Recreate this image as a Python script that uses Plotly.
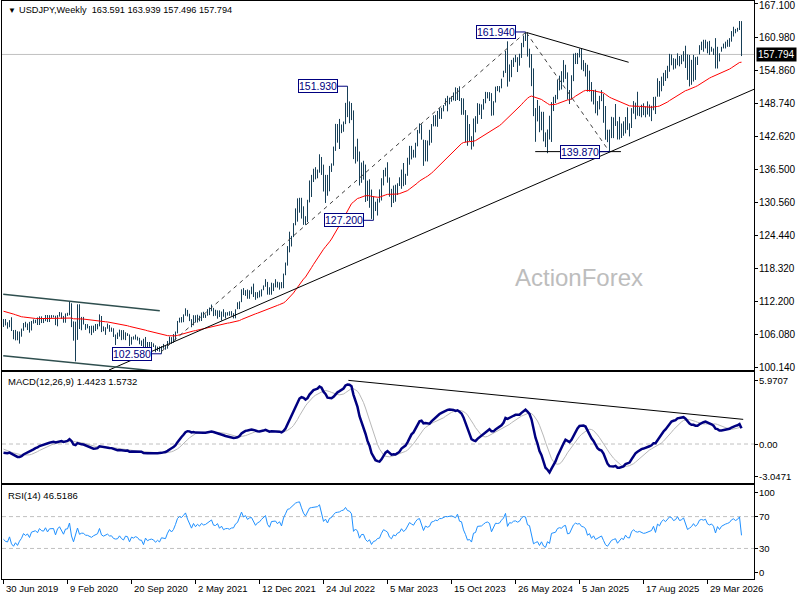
import pandas as pd
import plotly.graph_objects as go

# USDJPY weekly, first drawn bar is the week of 30 Jun 2019
first_week = "2019-06-30"

# closes from 2018 to the end of June 2019, only used to warm up the indicators
pre_closes = [113.0, 111.0, 110.8, 108.6, 110.2, 108.8, 106.3, 106.9, 105.7, 106.8, 106.0, 104.7, 106.3,
              106.9, 107.4, 107.6, 109.0, 109.1, 109.4, 110.8, 109.4, 109.5, 109.5, 110.7, 110.0, 110.8,
              110.5, 112.4, 111.4, 111.0, 111.3, 110.9, 110.5, 111.2, 111.0, 110.9, 112.0, 112.6, 113.7,
              113.7, 112.2, 112.5, 111.9, 113.2, 113.8, 112.8, 112.9, 113.6, 112.7, 113.4, 111.2, 110.3,
              108.5, 108.5, 109.8, 109.5, 109.5, 109.7, 110.5, 110.7, 111.9, 111.2, 111.5, 109.9, 110.9,
              111.7, 112.0, 111.9, 111.6, 111.1, 109.9, 110.1, 109.3, 108.3, 108.2, 108.6, 107.3, 107.9]

highs = [
    # 2019 (from 30 Jun)
    108.99, 108.99, 108.39, 108.78, 109.32, 106.96, 106.98, 106.73, 106.68, 107.23, 108.26, 108.48, 108.18,
    108.47, 108.63, 108.94, 108.87, 109.28, 109.49, 109.48, 109.11, 109.73, 109.73, 109.70, 109.72, 109.68, 109.60,
    # 2020
    109.71, 110.29, 110.20, 109.56, 110.02, 110.14, 112.23, 111.90, 108.56, 108.50, 111.71, 111.71, 109.38,
    109.38, 108.08, 108.05, 107.71, 107.76, 107.77, 108.08, 108.09, 109.85, 109.55, 107.64, 107.48, 108.16,
    107.88, 107.42, 107.29, 106.14, 106.49, 107.04, 106.95, 106.95, 106.55, 106.38, 106.15, 105.70, 105.80,
    106.11, 105.74, 105.53, 105.04, 105.35, 105.68, 104.75, 104.76, 104.75, 104.50, 104.14, 103.90, 103.94,
    # 2021
    103.98, 104.40, 104.09, 104.94, 105.76, 105.65, 106.22, 106.69, 108.64, 109.23, 109.36, 109.85, 110.97,
    110.67, 109.96, 108.97, 109.70, 109.69, 109.79, 109.60, 110.20, 110.33, 109.84, 110.82, 111.11, 111.66,
    111.04, 110.70, 110.59, 110.59, 110.37, 110.80, 110.24, 110.25, 110.42, 110.44, 110.08, 110.79, 112.08,
    112.25, 114.47, 114.70, 114.32, 114.44, 114.30, 114.97, 115.52, 113.95, 113.95, 114.25, 114.47, 115.19,
    # 2022
    116.35, 115.84, 114.85, 115.69, 115.59, 116.34, 115.87, 115.76, 115.80, 117.37, 119.41, 122.44, 125.10,
    124.33, 126.68, 129.40, 131.25, 131.35, 131.35, 129.78, 127.96, 130.98, 134.55, 135.58, 136.71, 137.00,
    136.56, 139.38, 138.88, 137.47, 135.58, 135.58, 137.23, 137.70, 140.80, 144.99, 144.96, 145.90, 144.88,
    145.42, 148.86, 151.94, 149.13, 148.84, 147.47, 140.80, 142.25, 139.89, 137.86, 138.18, 137.48, 134.51,
    # 2023
    134.77, 132.87, 131.58, 130.62, 131.20, 132.90, 134.96, 136.49, 136.92, 137.91, 135.10, 133.00, 133.61,
    133.76, 134.03, 135.13, 136.56, 137.77, 135.77, 138.74, 140.93, 140.93, 140.21, 141.50, 143.87, 145.07,
    144.90, 142.07, 142.00, 141.92, 143.89, 144.96, 146.57, 146.64, 147.37, 147.87, 147.95, 148.46, 149.71,
    150.16, 149.83, 150.08, 150.78, 151.72, 151.59, 151.91, 149.75, 149.68, 147.53, 146.59, 144.96, 142.71,
    # 2024
    145.98, 146.41, 148.81, 148.70, 148.58, 149.58, 150.89, 150.84, 150.84, 150.66, 149.17, 151.86, 151.97,
    151.95, 153.32, 154.79, 158.44, 160.21, 155.95, 156.78, 157.19, 157.71, 157.28, 157.92, 159.92, 161.28,
    161.95, 161.80, 158.86, 157.86, 155.22, 147.90, 149.39, 148.32, 147.22, 147.21, 143.42, 143.95, 146.49,
    149.00, 149.98, 150.33, 153.19, 153.88, 154.71, 156.75, 155.89, 154.48, 151.23, 153.95, 157.93, 158.08, 158.07,
    # 2025
    158.87, 158.88, 156.75, 156.24, 155.89, 154.80, 152.70, 151.23, 151.30, 149.19, 150.16, 151.21, 150.49,
    148.28, 143.91, 143.93, 146.29, 146.19, 148.65, 145.48, 146.28, 145.05, 145.46, 146.25, 148.03, 145.09,
    147.89, 149.19, 148.90, 150.91, 148.07, 148.52, 148.78, 148.18, 149.14, 148.55, 148.32, 149.96, 150.00,
    153.40, 152.90, 153.70, 154.40, 154.90, 155.70, 157.90, 157.80, 157.10, 157.00, 158.00, 157.50, 157.70,
    # 2026
    158.40, 159.40, 157.80, 157.70, 156.80, 157.70, 157.30, 157.40, 159.50, 160.15, 160.50, 160.50, 160.15,
    160.30, 159.20, 158.90, 160.80, 159.20, 158.00, 159.20, 159.80, 160.15, 160.50, 160.80, 162.10, 162.90,
    162.50, 162.70, 163.96, 163.939,
]

lows = [
    # 2019
    107.52, 107.81, 107.21, 107.48, 106.78, 105.26, 105.05, 105.07, 104.46, 105.73, 106.82, 107.46, 106.96,
    106.48, 106.88, 108.15, 108.24, 107.89, 107.89, 108.25, 108.25, 108.60, 108.43, 108.44, 109.20, 109.30, 107.86,
    # 2020
    107.65, 109.43, 109.02, 108.31, 108.31, 109.57, 109.69, 107.50, 105.00, 101.18, 105.15, 107.15, 106.92,
    107.98, 106.99, 107.26, 106.36, 106.03, 106.47, 106.78, 107.09, 107.64, 106.58, 106.73, 106.07, 107.20,
    106.64, 106.64, 105.68, 104.19, 105.30, 105.75, 105.10, 105.20, 105.10, 105.87, 104.00, 104.27, 105.20,
    105.20, 105.03, 104.34, 104.02, 103.18, 103.15, 103.65, 103.87, 103.66, 103.83, 102.87, 103.10, 102.95,
    # 2021
    102.59, 103.52, 103.33, 103.52, 104.52, 104.41, 104.61, 105.06, 106.35, 108.34, 108.34, 108.41, 109.59,
    109.47, 108.61, 107.48, 107.82, 108.34, 108.34, 108.56, 108.63, 109.20, 109.19, 109.60, 109.71, 110.42,
    109.53, 109.59, 109.06, 109.36, 108.72, 109.41, 109.11, 109.62, 109.59, 109.59, 109.11, 109.12, 110.81,
    110.82, 112.10, 113.41, 113.26, 112.73, 112.72, 113.57, 113.05, 112.53, 112.82, 112.98, 113.15, 114.30,
    # 2022
    114.94, 113.49, 113.47, 113.48, 114.15, 114.83, 114.78, 114.41, 114.65, 114.69, 117.07, 118.85, 121.29,
    122.37, 124.10, 126.28, 126.95, 128.61, 127.52, 126.36, 126.36, 126.86, 130.50, 131.50, 134.26, 134.75,
    134.95, 135.98, 135.57, 132.51, 130.40, 131.73, 132.55, 136.12, 137.28, 140.00, 141.52, 140.35, 143.28,
    143.53, 144.94, 146.23, 145.11, 145.68, 138.48, 137.67, 138.05, 133.62, 134.12, 134.69, 130.58, 130.78,
    # 2023
    129.51, 127.46, 127.21, 128.91, 128.08, 130.48, 130.85, 133.63, 135.28, 134.14, 131.55, 129.64, 130.40,
    130.63, 131.86, 133.53, 133.01, 133.50, 133.74, 135.41, 137.45, 138.43, 138.76, 138.77, 140.85, 143.22,
    142.07, 137.24, 138.07, 138.05, 141.02, 141.50, 144.53, 144.53, 144.44, 145.91, 145.90, 147.30, 148.34,
    147.30, 148.60, 149.07, 149.32, 149.20, 149.39, 149.20, 146.66, 146.66, 141.60, 140.95, 141.76, 140.25,
    # 2024
    140.81, 143.42, 145.00, 146.65, 145.89, 147.61, 148.79, 149.68, 149.21, 146.48, 146.55, 148.93, 151.03,
    150.80, 151.55, 153.59, 154.38, 151.86, 152.78, 153.60, 155.48, 156.36, 154.55, 155.72, 157.15, 159.13,
    160.27, 157.40, 155.37, 151.94, 146.41, 141.68, 145.44, 143.45, 143.81, 141.75, 140.71, 139.58, 142.10,
    141.65, 147.35, 148.83, 149.52, 151.16, 151.32, 152.65, 153.29, 149.47, 148.65, 149.47, 152.87, 156.02, 156.02,
    # 2025
    157.24, 154.97, 154.70, 153.72, 150.94, 150.93, 149.10, 148.57, 146.94, 146.54, 147.65, 149.18, 145.19,
    142.06, 141.62, 139.89, 142.36, 142.36, 144.60, 142.11, 142.10, 142.38, 142.79, 143.23, 143.88, 142.68,
    144.22, 146.87, 145.85, 146.50, 146.41, 146.20, 146.59, 146.20, 146.70, 146.32, 145.49, 147.50, 146.80,
    150.00, 150.00, 151.00, 152.00, 152.90, 153.40, 154.60, 155.80, 155.00, 155.20, 155.80, 155.60, 156.00,
    # 2026
    156.50, 155.30, 153.10, 151.90, 152.20, 152.80, 153.10, 155.85, 157.80, 158.60, 158.30, 158.90, 158.00,
    157.70, 158.30, 157.70, 155.20, 155.20, 156.50, 158.30, 158.90, 158.90, 159.20, 159.20, 160.15, 161.10,
    161.70, 162.00, 162.30, 157.496,
]

closes = [
    # 2019
    108.47, 107.91, 107.72, 108.67, 106.59, 105.68, 106.38, 105.39, 106.28, 106.92, 108.08, 107.56, 107.92,
    106.93, 108.29, 108.43, 108.67, 108.19, 109.26, 108.79, 108.67, 109.51, 108.60, 109.38, 109.43, 109.45, 108.10,
    # 2020
    109.50, 110.13, 109.30, 108.38, 109.74, 109.78, 111.62, 107.87, 105.36, 107.95, 110.83, 107.94, 108.45,
    108.45, 107.53, 107.50, 106.90, 106.63, 107.14, 107.61, 107.78, 109.58, 107.36, 106.88, 107.22, 107.51,
    106.89, 106.94, 106.08, 105.87, 105.93, 106.60, 105.81, 105.37, 106.22, 106.08, 104.55, 105.58, 105.32,
    105.62, 105.40, 104.71, 104.66, 103.35, 104.62, 103.86, 104.08, 104.17, 103.97, 103.34, 103.67, 103.25,
    # 2021
    103.95, 103.87, 103.77, 104.68, 105.38, 104.94, 105.44, 106.57, 108.34, 109.03, 108.88, 109.66, 110.69,
    109.67, 108.78, 107.88, 109.31, 108.59, 109.37, 108.96, 109.84, 109.51, 109.67, 110.21, 110.76, 111.05,
    110.13, 110.07, 110.55, 109.72, 110.24, 109.57, 109.80, 109.84, 109.71, 109.95, 109.98, 110.74, 111.06,
    112.22, 114.21, 113.49, 113.98, 113.40, 113.89, 114.01, 113.38, 112.80, 113.44, 113.68, 114.36, 115.08,
    # 2022
    115.56, 114.20, 113.68, 115.26, 115.24, 115.43, 114.99, 115.54, 114.83, 117.29, 119.20, 122.04, 122.50,
    124.33, 126.43, 128.55, 129.80, 130.56, 129.21, 127.87, 127.11, 130.87, 134.40, 135.02, 135.22, 135.24,
    136.10, 138.55, 136.12, 133.27, 134.95, 133.42, 136.93, 137.63, 140.22, 142.55, 142.91, 143.35, 144.74,
    145.28, 148.69, 147.65, 147.47, 146.61, 138.79, 140.37, 139.12, 134.32, 136.60, 136.67, 132.89, 131.12,
    # 2023
    132.09, 127.87, 129.58, 129.88, 131.19, 131.38, 134.17, 136.46, 135.85, 135.05, 131.86, 130.72, 132.87,
    132.18, 133.74, 134.16, 136.28, 134.84, 135.73, 137.97, 140.60, 139.95, 139.40, 141.84, 143.72, 144.32,
    142.09, 138.80, 141.81, 141.17, 141.81, 144.95, 145.39, 146.44, 146.22, 147.84, 147.85, 148.37, 149.37,
    149.30, 149.56, 149.86, 149.66, 149.39, 151.51, 149.62, 149.44, 146.80, 144.95, 142.16, 142.40, 141.02,
    # 2024
    144.61, 144.91, 148.14, 148.14, 148.38, 149.29, 150.20, 150.51, 150.09, 147.06, 149.07, 151.44, 151.35,
    151.61, 153.27, 154.62, 158.32, 153.05, 155.77, 155.63, 156.98, 157.25, 156.74, 157.38, 159.79, 160.88,
    160.75, 157.83, 157.48, 153.76, 146.54, 147.17, 147.61, 144.36, 146.17, 142.30, 140.85, 143.84, 142.18,
    148.70, 149.13, 149.52, 152.31, 152.99, 152.62, 154.31, 154.77, 149.70, 149.97, 153.66, 156.32, 157.84, 157.33,
    # 2025
    157.74, 156.30, 156.00, 155.18, 151.40, 152.30, 149.25, 150.62, 148.03, 148.64, 149.30, 149.84, 146.93,
    143.51, 142.17, 143.70, 144.91, 145.35, 145.69, 142.58, 143.99, 144.85, 144.09, 146.10, 144.65, 144.49,
    147.41, 148.59, 147.68, 147.41, 147.74, 147.18, 146.91, 147.05, 147.38, 147.68, 147.94, 149.50, 147.50,
    151.20, 150.60, 152.90, 154.00, 153.40, 154.60, 156.40, 156.20, 155.30, 155.80, 157.60, 156.50, 156.80,
    # 2026
    158.00, 155.80, 154.20, 154.80, 155.50, 156.90, 156.00, 157.00, 159.20, 159.60, 159.40, 159.90, 158.60,
    158.30, 158.70, 158.10, 156.00, 158.50, 157.50, 158.90, 159.50, 159.90, 160.20, 160.60, 161.80, 162.30,
    161.90, 162.40, 163.59, 157.794,
]

# axis labels as shown by the terminal
price_ticks = [167.100, 160.980, 154.860, 148.740, 142.620, 136.500, 130.560,
               124.440, 118.320, 112.200, 106.080, 100.140]
macd_ticks = [5.9707, 0.0, -3.0471]
macd_tick_text = ["5.9707", "0.00", "-3.0471"]
rsi_ticks = [100, 70, 30, 0]
date_labels = ["30 Jun 2019", "9 Feb 2020", "20 Sep 2020", "2 May 2021", "12 Dec 2021", "24 Jul 2022",
               "5 Mar 2023", "15 Oct 2023", "26 May 2024", "5 Jan 2025", "17 Aug 2025", "29 Mar 2026"]

# marked highs / lows (bar date, price)
mark_dates = ["2022-10-16", "2024-06-30", "2023-01-15", "2025-04-20", "2021-01-03"]
mark_prices = [151.93, 161.94, 127.20, 139.87, 102.58]

# hand drawn lines: (start date, start price, end date, end price)
rising_trend = ["2020-07-03", 99.58, "2026-09-09", 151.40]
falling_top = ["2024-07-03", 161.85, "2025-06-26", 156.35]
support_139 = ["2024-08-03", 139.87, "2025-05-30", 139.87]
dash_up = ["2021-01-03", 103.0, "2024-07-01", 161.9]
dash_down = ["2024-07-03", 161.8, "2025-04-18", 140.0]
channel_top = ["2019-06-29", 113.55, "2020-12-28", 110.53]
channel_bottom = ["2019-06-29", 102.23, "2020-12-28", 99.33]
macd_trend = ["2022-10-19", 5.94, "2026-08-01", 2.30]

header = "USDJPY,Weekly  163.591 163.939 157.496 157.794"
macd_title = "MACD(12,26,9) 1.4423 1.5732"
rsi_title = "RSI(14) 46.5186"

# ---- indicators
dates = pd.date_range(first_week, periods=len(closes), freq="W-SUN")
allc = pd.Series(pre_closes + closes, dtype=float)
n_pre = len(pre_closes)
ma55 = allc.ewm(span=55, adjust=False).mean()
macd = allc.ewm(span=12, adjust=False).mean() - allc.ewm(span=26, adjust=False).mean()
signal = macd.rolling(9).mean()
delta = allc.diff()
gain = delta.clip(lower=0).ewm(alpha=1 / 14, adjust=False).mean()
loss = (-delta.clip(upper=0)).ewm(alpha=1 / 14, adjust=False).mean()
rsi = 100 - 100 / (1 + gain / loss)

ma55 = ma55.iloc[n_pre:].values
macd = macd.iloc[n_pre:].values
signal = signal.iloc[n_pre:].values
rsi = rsi.iloc[n_pre:].values

BAR = "#173f57"
NAVY = "#000080"
FONT = "Liberation Sans"

# 2 px per week, bar centres on half pixels so the 1px strokes stay sharp
x_left = pd.Timestamp(first_week) - pd.Timedelta(weeks=0.75)
x_right = x_left + pd.Timedelta(weeks=376)

fig = go.Figure()

# OHLC bars drawn as high-low strokes
bx, by = [], []
for d, h, l in zip(dates, highs, lows):
    bx += [d, d, None]
    by += [l, h, None]
fig.add_trace(go.Scatter(x=bx, y=by, mode="lines", line=dict(color=BAR, width=1),
                         xaxis="x", yaxis="y", hoverinfo="skip"))
fig.add_trace(go.Scatter(x=dates, y=ma55, mode="lines", line=dict(color="red", width=1),
                         xaxis="x", yaxis="y"))


def seg(line, color, width=1, dash="solid", yaxis="y", xaxis="x"):
    fig.add_trace(go.Scatter(x=[line[0], line[2]], y=[line[1], line[3]], mode="lines",
                             line=dict(color=color, width=width, dash=dash),
                             xaxis=xaxis, yaxis=yaxis, hoverinfo="skip"))


seg(rising_trend, "black")
seg(falling_top, "black")
seg(support_139, "black")
seg(dash_up, "#404040", dash="4px,4px")
seg(dash_down, "#404040", dash="4px,4px")
seg(channel_top, "#2f4f4f", width=1.5)
seg(channel_bottom, "#2f4f4f", width=1.5)

# MACD panel
fig.add_trace(go.Scatter(x=dates, y=signal, mode="lines", line=dict(color="#b8b8b8", width=1),
                         xaxis="x2", yaxis="y2"))
fig.add_trace(go.Scatter(x=dates, y=macd, mode="lines", line=dict(color=NAVY, width=2.5),
                         xaxis="x2", yaxis="y2"))
seg(macd_trend, "black", xaxis="x2", yaxis="y2")

# RSI panel
fig.add_trace(go.Scatter(x=dates, y=rsi, mode="lines", line=dict(color="#1e90ff", width=1),
                         xaxis="x3", yaxis="y3"))

shapes = [
    dict(type="line", xref="x domain", yref="y", x0=0, x1=1, y0=closes[-1], y1=closes[-1],
         line=dict(color="#c0c0c0", width=1), layer="below"),
    dict(type="line", xref="x2 domain", yref="y2", x0=0, x1=1, y0=0, y1=0,
         line=dict(color="#c0c0c0", width=1, dash="4px,3px"), layer="below"),
]
for lvl in (70, 30):
    shapes.append(dict(type="line", xref="x3 domain", yref="y3", x0=0, x1=1, y0=lvl, y1=lvl,
                       line=dict(color="#c0c0c0", width=1, dash="4px,3px"), layer="below"))


def px_x(p):
    return (p - 2) / 752


def px_y(p):
    return (579 - p) / 578


annotations = [
    dict(text="▼", xref="paper", yref="paper", x=px_x(6), y=px_y(10), xanchor="left", yanchor="middle",
         showarrow=False, font=dict(family=FONT, size=8, color="black")),
    dict(text=header, xref="paper", yref="paper", x=px_x(17), y=px_y(10), xanchor="left", yanchor="middle",
         showarrow=False, font=dict(family=FONT, size=9.2, color="black")),
    dict(text=macd_title, xref="paper", yref="paper", x=px_x(6), y=px_y(381), xanchor="left",
         yanchor="middle", showarrow=False, font=dict(family=FONT, size=9.5, color="black")),
    dict(text=rsi_title, xref="paper", yref="paper", x=px_x(6), y=px_y(495), xanchor="left",
         yanchor="middle", showarrow=False, font=dict(family=FONT, size=9.5, color="black")),
    dict(text="ActionForex", xref="paper", yref="paper", x=px_x(579), y=px_y(277), xanchor="center",
         yanchor="middle", showarrow=False, font=dict(family=FONT, size=24, color="#bdbdbd")),
]

# right-hand scale labels (placed as text so the ones at the panel edges are not dropped)
scale_labels = ([("y", v, f"{v:.3f}", 10) for v in price_ticks]
                + [("y2", v, t, 9.5) for v, t in zip(macd_ticks, macd_tick_text)]
                + [("y3", v, str(v), 9.5) for v in rsi_ticks])
for yref, v, t, size in scale_labels:
    top_edge = yref == "y" and v == max(price_ticks)
    annotations.append(dict(text=t, xref="paper", yref=yref, x=1, y=v, xanchor="left", yanchor="middle",
                            xshift=3, yshift=-2 if top_edge else 0, showarrow=False,
                            font=dict(family=FONT, size=size, color="black")))

annotations.append(dict(text=f"{closes[-1]:.3f}", xref="paper", yref="y", x=1, y=closes[-1],
                        xanchor="left", yanchor="middle", xshift=2, showarrow=False, bgcolor="black",
                        borderpad=1, font=dict(family=FONT, size=10, color="white")))

for d, p in zip(mark_dates, mark_prices):
    annotations.append(dict(text=f"{p:.3f}", x=d, y=p, xref="x", yref="y", showarrow=True, arrowhead=0,
                            arrowcolor=NAVY, arrowwidth=1, ax=-10, ay=0, xanchor="right",
                            bordercolor=NAVY, borderwidth=1, borderpad=0, bgcolor="white",
                            font=dict(family=FONT, size=10.5, color=NAVY)))
tick_dates = pd.to_datetime(date_labels, format="%d %b %Y")
for d, t in zip(tick_dates, date_labels):
    annotations.append(dict(text=t, x=d, y=0, xref="x3", yref="paper", xanchor="left", yanchor="top",
                            yshift=-2, showarrow=False, font=dict(family=FONT, size=9.5, color="black")))

axis_common = dict(showline=True, mirror=True, linecolor="black", linewidth=1, showgrid=False,
                   zeroline=False, showticklabels=False)
xcommon = dict(axis_common, type="date", range=[x_left, x_right])
ycommon = dict(axis_common, side="right", ticks="outside", ticklen=3, tickcolor="black")

fig.update_layout(
    width=800, height=600,
    margin=dict(l=2, r=46, t=1, b=21),
    paper_bgcolor="white", plot_bgcolor="white",
    showlegend=False,
    shapes=shapes,
    annotations=annotations,
    xaxis=dict(xcommon, anchor="y"),
    xaxis2=dict(xcommon, anchor="y2", matches="x"),
    xaxis3=dict(xcommon, anchor="y3", matches="x", ticks="outside", ticklen=4, tickcolor="black",
                tickvals=tick_dates),
    yaxis=dict(ycommon, domain=[px_y(370), 1], range=[99.59, 167.65], tickvals=price_ticks),
    yaxis2=dict(ycommon, domain=[px_y(483), px_y(372)], range=[-3.64, 6.72], tickvals=macd_ticks),
    yaxis3=dict(ycommon, domain=[0, px_y(485)], range=[-8.4, 109.7], tickvals=rsi_ticks),
)

# the page's default body margin would push the 800x600 figure off the window
fig.write_html("out.html", config={"displayModeBar": False},
               post_script="document.body.style.margin = '0';")
